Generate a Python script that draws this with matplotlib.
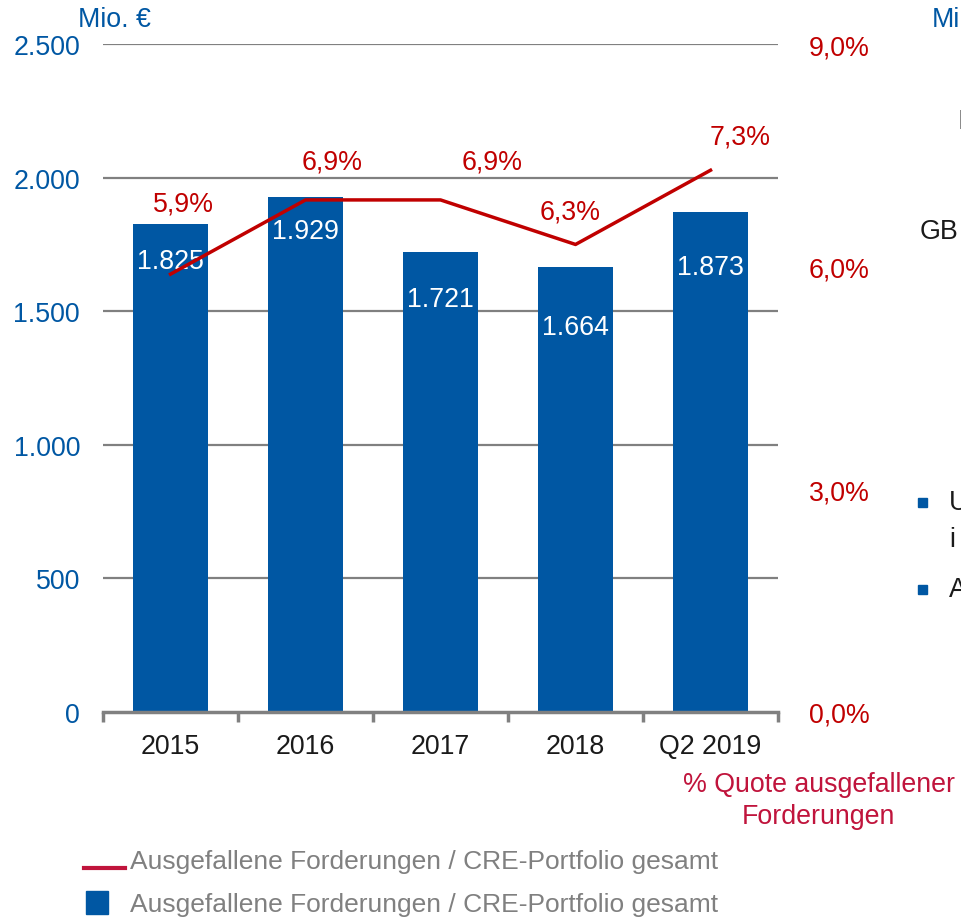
import matplotlib.pyplot as plt
from matplotlib.lines import Line2D
from matplotlib.patches import Rectangle

plt.rcParams['font.family'] = ['Liberation Sans', 'DejaVu Sans']

# data
categories = ['2015', '2016', '2017', '2018', 'Q2 2019']
volume = [1825, 1929, 1721, 1664, 1873]          # Mio. EUR
volume_labels = ['1.825', '1.929', '1.721', '1.664', '1.873']
quote = [5.9, 6.9, 6.9, 6.3, 7.3]                # %
quote_labels = ['5,9%', '6,9%', '6,9%', '6,3%', '7,3%']
left_ticks = [0, 500, 1000, 1500, 2000, 2500]
left_ticklabels = ['0', '500', '1.000', '1.500', '2.000', '2.500']
right_ticks = [0, 3, 6, 9]
right_ticklabels = ['0,0%', '3,0%', '6,0%', '9,0%']
legend_labels = ['Ausgefallene Forderungen / CRE-Portfolio gesamt',
                 'Ausgefallene Forderungen / CRE-Portfolio gesamt']

# colours
blue = '#0057A3'
red = '#C00000'
crimson = '#C0143C'
grey = '#808080'
fs = 19.3

# label offsets in points (dx, dy)
bar_label_dy = [-26, -25, -34, -43, -40]
line_label_off = [(9, 51), (19, 28), (37, 28), (-4, 24), (21, 24)]

fig = plt.figure(figsize=(9.61, 9.2), dpi=100)
ax = fig.add_axes([0.1072, 0.225, 0.7024, 0.726])
x = list(range(len(categories)))

ax.bar(x, volume, width=0.55, color=blue, zorder=2)
ax.set_xlim(-0.5, 4.46)
ax.set_ylim(0, 2500)
ax.set_yticks(left_ticks)
ax.set_yticklabels(left_ticklabels)
ax.tick_params(axis='y', length=0, colors=blue, labelsize=fs, pad=16.5)
ax.set_xticks(x)
ax.set_xticklabels(categories)
ax.tick_params(axis='x', length=0, labelsize=fs, labelcolor='#1a1a1a', pad=15)
ax.set_xticks([i - 0.5 for i in range(len(categories) + 1)], minor=True)
ax.tick_params(axis='x', which='minor', length=7, width=2.5, color=grey,
               direction='out')
for y in left_ticks[1:]:
    ax.axhline(y, color=grey, lw=1.6, zorder=1)
for s in ['top', 'right', 'left']:
    ax.spines[s].set_visible(False)
ax.spines['bottom'].set_color(grey)
ax.spines['bottom'].set_linewidth(2.5)

for i, v in enumerate(volume):
    ax.annotate(volume_labels[i], (x[i], v), xytext=(0, bar_label_dy[i]),
                textcoords='offset points', ha='center', va='center',
                color='white', fontsize=fs, zorder=3)

ax2 = ax.twinx()
ax2.set_ylim(0, 9)
ax2.plot(x, quote, color=red, lw=2.5, zorder=4)
ax2.set_yticks(right_ticks)
ax2.set_yticklabels(right_ticklabels)
ax2.tick_params(axis='y', length=0, colors=red, labelsize=fs, pad=22)
for s in ax2.spines.values():
    s.set_visible(False)
for i, q in enumerate(quote):
    ax2.annotate(quote_labels[i], (x[i], q), xytext=line_label_off[i],
                 textcoords='offset points', ha='center', va='center',
                 color=red, fontsize=fs)

# axis titles
fig.text(78 / 961, 1 - 20 / 920, 'Mio. €', color=blue, fontsize=fs,
         ha='left', va='center')
fig.text(819 / 961, 1 - 785 / 920, '% Quote ausgefallener', color=crimson,
         fontsize=fs, ha='center', va='center')
fig.text(818 / 961, 1 - 817 / 920, 'Forderungen', color=crimson,
         fontsize=fs, ha='center', va='center')

# cut-off slide text on the right
fig.text(932 / 961, 1 - 20 / 920, 'Mi', color=blue, fontsize=fs, ha='left', va='center')
fig.text(957 / 961, 1 - 122 / 920, 'I', color='#1a1a1a', fontsize=fs, ha='left', va='center')
fig.text(920 / 961, 1 - 232 / 920, 'GB', color='#1a1a1a', fontsize=fs, ha='left', va='center')
for yy in [503, 590]:
    fig.add_artist(Rectangle((918 / 961, 1 - (yy + 5) / 920), 9 / 961, 9 / 920,
                             color=blue, transform=fig.transFigure))
fig.text(949 / 961, 1 - 503 / 920, 'U', color='#1a1a1a', fontsize=fs, ha='left', va='center')
fig.text(949 / 961, 1 - 540 / 920, 'i', color='#1a1a1a', fontsize=fs, ha='left', va='center')
fig.text(949 / 961, 1 - 590 / 920, 'A', color='#1a1a1a', fontsize=fs, ha='left', va='center')

# legend
fig.add_artist(Line2D([84 / 961, 125 / 961], [1 - 869 / 920, 1 - 869 / 920],
                      color=crimson, lw=3, transform=fig.transFigure))
fig.add_artist(Rectangle((86 / 961, 1 - 915 / 920), 22 / 961, 23 / 920,
                         color=blue, transform=fig.transFigure))
fig.text(130 / 961, 1 - 862 / 920, legend_labels[0], color=grey, fontsize=19,
         ha='left', va='center')
fig.text(130 / 961, 1 - 905 / 920, legend_labels[1], color=grey, fontsize=19,
         ha='left', va='center')

fig.savefig('out.png', dpi=100)
